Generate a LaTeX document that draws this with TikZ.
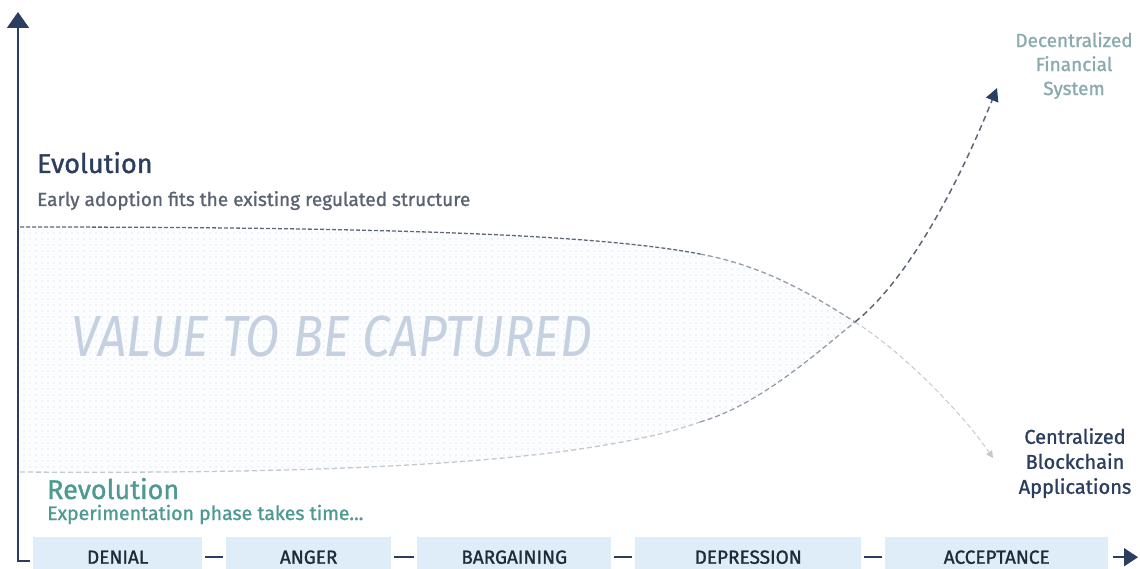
\documentclass[tikz,border=0pt]{standalone}
\usepackage{fontspec}
\setmainfont[FakeBold=1.2]{Fira Sans}
\newfontfamily\valuefont[FakeStretch=0.86]{Fira Sans}
\usetikzlibrary{positioning,arrows.meta,patterns}
\definecolor{navy}{HTML}{2C3E5F}
\definecolor{subgray}{HTML}{5A6372}
\definecolor{teal}{HTML}{4E9A92}
\definecolor{defigray}{HTML}{8AAAAF}
\definecolor{boxblue}{HTML}{DFEDF8}
\definecolor{boxtext}{HTML}{1F2A3A}
\definecolor{valuecol}{HTML}{C5D1E1}
\definecolor{areafill}{HTML}{FCFDFE}
\definecolor{dotgray}{HTML}{C9D1DB}
\definecolor{darkdash}{HTML}{5F6878}
\definecolor{middash}{HTML}{959DA8}
\definecolor{lightdash}{HTML}{C3C9D0}
\pgfdeclarepatternformonly{sparsedots}{\pgfqpoint{-1pt}{-1pt}}{\pgfqpoint{1pt}{1pt}}{\pgfqpoint{6pt}{6pt}}{\pgfpathcircle{\pgfqpoint{0pt}{0pt}}{0.65pt}\pgfusepath{fill}}
\tikzset{
  stage/.style={fill=boxblue,anchor=north west,minimum width=#1,minimum height=40pt,inner sep=0pt,text=boxtext,font=\fontsize{19}{19}\selectfont},
  link/.style={navy,line width=1.6pt},
  curve/.style={line width=1.3pt,dash pattern=on 5pt off 3pt}
}

\begin{document}
\begin{tikzpicture}[x=1pt,y=-1pt]
  \useasboundingbox (0,0) rectangle (1140,569);
  % area between the two paths
  \path[fill=areafill,postaction={pattern=sparsedots,pattern color=dotgray}]
    (20,227) .. controls (400,227) and (600,235) .. (700,254) .. controls (770,267) and (820,300) .. (855,322)
    .. controls (820,350) and (760,405) .. (700,422) .. controls (580,465) and (320,474) .. (20,472) -- cycle;
  \node[font=\valuefont\fontsize{58}{58}\selectfont\itshape,text=valuecol] (value) at (332,337) {VALUE TO BE CAPTURED};
  % evolution path
  \coordinate (cross) at (855,322);
  \draw[curve,darkdash,dash pattern=on 4pt off 2pt] (20,227) .. controls (400,227) and (600,235) .. (700,254);
  \draw[curve,middash] (700,254) .. controls (770,267) and (820,300) .. (cross);
  \draw[curve,lightdash,line width=1pt,-{Triangle[width=7pt,length=7pt]}] (cross) .. controls (900,350) and (960,410) .. (993,458) coordinate (cbaend);
  % revolution path
  \draw[curve,lightdash] (20,472) .. controls (320,474) and (580,465) .. (700,422);
  \draw[curve,middash] (700,422) .. controls (760,405) and (820,350) .. (cross);
  \draw[curve,darkdash,line width=1.5pt,dash pattern=on 6pt off 4pt,-{Triangle[width=13pt,length=13pt,color=navy]}] (cross) .. controls (910,278) and (960,180) .. (997,88) coordinate (dfsend);
  % axes
  \coordinate (origin) at (18,561);
  \draw[navy,line width=1.8pt,-{Triangle[width=22pt,length=16pt]}] (30,561) -- (origin) -- (18,12);
  % texts
  \node[anchor=base west,inner sep=0pt,text=navy,font=\fontsize{27}{27}\selectfont] (evo) at (37,173) {Evolution};
  \node[anchor=base west,inner sep=0pt,text=subgray,font=\fontsize{19}{19}\selectfont] (evosub) at (37,206) {Early adoption fits the existing regulated structure};
  \node[anchor=base west,inner sep=0pt,text=teal,font=\fontsize{27}{27}\selectfont] (rev) at (47,499) {Revolution};
  \node[anchor=base west,inner sep=0pt,text=teal,font=\fontsize{19.5}{19.5}\selectfont] (revsub) at (47,520) {Experimentation phase takes time...};
  \node[align=center,anchor=north,inner sep=0pt,text=defigray,font=\fontsize{19}{24}\selectfont] (dfs) at (1074,32) {Decentralized\\Financial\\System};
  \node[align=center,anchor=north,inner sep=0pt,text=navy,font=\fontsize{20}{25}\selectfont] (cba) at (1075,428) {Centralized\\Blockchain\\Applications};
  % stages
  \node[stage=169pt] (denial) at (33,537) {DENIAL};
  \node[stage=165pt] (anger) at (226,537) {ANGER};
  \node[stage=194pt] (barg) at (417,537) {BARGAINING};
  \node[stage=226pt] (depr) at (635,537) {DEPRESSION};
  \node[stage=223pt] (accept) at (885,537) {ACCEPTANCE};
  \draw[link] ([xshift=3pt]denial.east) -- ([xshift=-3pt]anger.west);
  \draw[link] ([xshift=3pt]anger.east) -- ([xshift=-3pt]barg.west);
  \draw[link] ([xshift=3pt]barg.east) -- ([xshift=-3pt]depr.west);
  \draw[link] ([xshift=3pt]depr.east) -- ([xshift=-3pt]accept.west);
  \coordinate (xend) at (1138,561);
  \draw[link,-{Triangle[width=18pt,length=14pt]}] ([xshift=5pt]accept.east) -- (xend |- accept.east);
\end{tikzpicture}
\end{document}
